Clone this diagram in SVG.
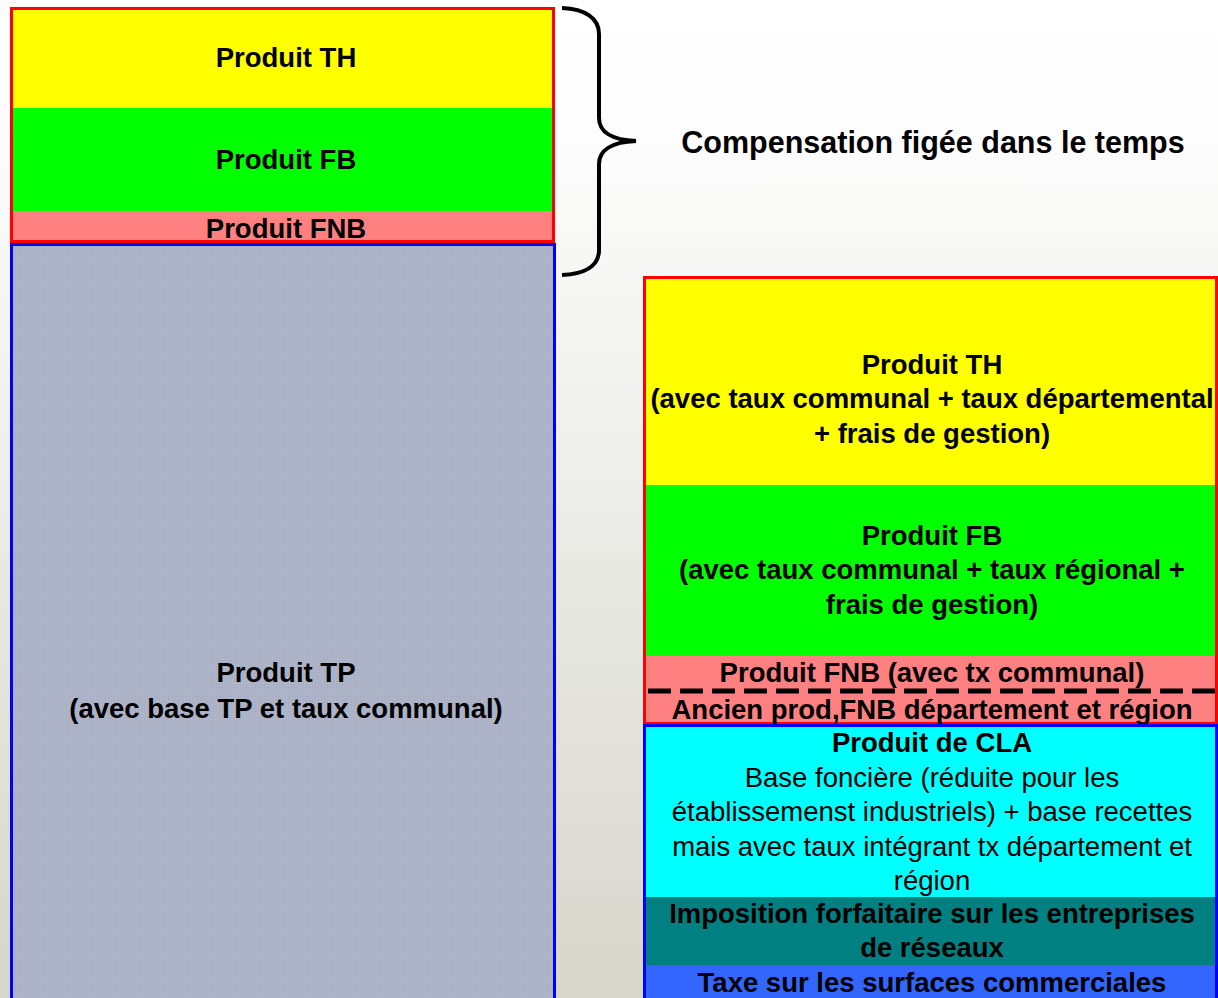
<svg xmlns="http://www.w3.org/2000/svg" width="1218" height="998" viewBox="0 0 1218 998">
<style>
text{font-family:"Liberation Sans",Arial,sans-serif;font-size:27.5px;fill:#000;text-anchor:middle}
.b{font-weight:bold}
.frame-r{fill:none;stroke:#ff0000;stroke-width:3}
.frame-b{fill:none;stroke:#0000ff;stroke-width:3}
</style>
<defs>
<linearGradient id="bg" x1="0" y1="0" x2="0" y2="1">
<stop offset="0" stop-color="#ffffff"/>
<stop offset="0.15" stop-color="#fcfcfc"/>
<stop offset="1" stop-color="#d6d6cc"/>
</linearGradient>
<pattern id="dots" width="3" height="3" patternUnits="userSpaceOnUse">
<rect width="3" height="3" fill="#aeb4c8"/>
<rect width="1" height="1" fill="#a2a9c0"/>
</pattern>
</defs>
<rect width="1218" height="998" fill="url(#bg)"/>

<g id="left-compensation">
<rect x="10" y="7" width="545" height="101" fill="#ffff00"/>
<rect x="10" y="108" width="545" height="103" fill="#00ff00"/>
<rect x="10" y="211" width="545" height="32" fill="#ff8080"/>
<rect class="frame-r" x="11.5" y="8.5" width="542" height="233"/>
<text class="b" x="286" y="67">Produit TH</text>
<text class="b" x="286" y="169">Produit FB</text>
<text class="b" x="286" y="238">Produit FNB</text>
</g>

<g id="left-tp">
<rect x="10" y="243" width="546" height="757" fill="url(#dots)"/>
<rect class="frame-b" x="11.5" y="244.5" width="543" height="760"/>
<text class="b" x="286" y="682">Produit TP</text>
<text class="b" x="286" y="718">(avec base TP et taux communal)</text>
</g>

<g id="connectors">
<path d="M562,8 C585,9 599,18 599,34 L599,118 C599,132 612,140 636,141 C612,142 599,150 599,164 L599,250 C599,266 585,274 562,275" fill="none" stroke="#000" stroke-width="4"/>
</g>

<g id="caption">
<text class="b" x="933" y="153" style="font-size:30.5px">Compensation figée dans le temps</text>
</g>

<g id="right-taxes">
<rect x="643" y="276" width="575" height="209" fill="#ffff00"/>
<rect x="643" y="485" width="575" height="171" fill="#00ff00"/>
<rect x="643" y="656" width="575" height="68" fill="#ff8080"/>
<rect class="frame-r" x="644.5" y="277.5" width="572" height="446"/>
<line x1="648" y1="691" x2="1216" y2="691" stroke="#000" stroke-width="5" stroke-dasharray="23,9"/>
<text class="b" x="932" y="374">Produit TH</text>
<text class="b" x="932" y="408">(avec taux communal + taux départemental</text>
<text class="b" x="932" y="443">+ frais de gestion)</text>
<text class="b" x="932" y="545">Produit FB</text>
<text class="b" x="932" y="579">(avec taux communal + taux régional +</text>
<text class="b" x="932" y="614">frais de gestion)</text>
<text class="b" x="932" y="682">Produit FNB (avec tx communal)</text>
<text class="b" x="932" y="719">Ancien prod,FNB département et région</text>
</g>

<g id="right-cla">
<rect x="643" y="724" width="575" height="173" fill="#00ffff"/>
<rect x="643" y="897" width="575" height="68" fill="#008080"/>
<rect x="643" y="965" width="575" height="33" fill="#3366ff"/>
<rect class="frame-b" x="644.5" y="725.5" width="572" height="278"/>
<text class="b" x="932" y="752">Produit de CLA</text>
<text x="932" y="787">Base foncière (réduite pour les</text>
<text x="932" y="821">établissemenst industriels) + base recettes</text>
<text x="932" y="856">mais avec taux intégrant tx département et</text>
<text x="932" y="890">région</text>
<text class="b" x="932" y="923">Imposition forfaitaire sur les entreprises</text>
<text class="b" x="932" y="957">de réseaux</text>
<text class="b" x="932" y="992">Taxe sur les surfaces commerciales</text>
</g>
</svg>
